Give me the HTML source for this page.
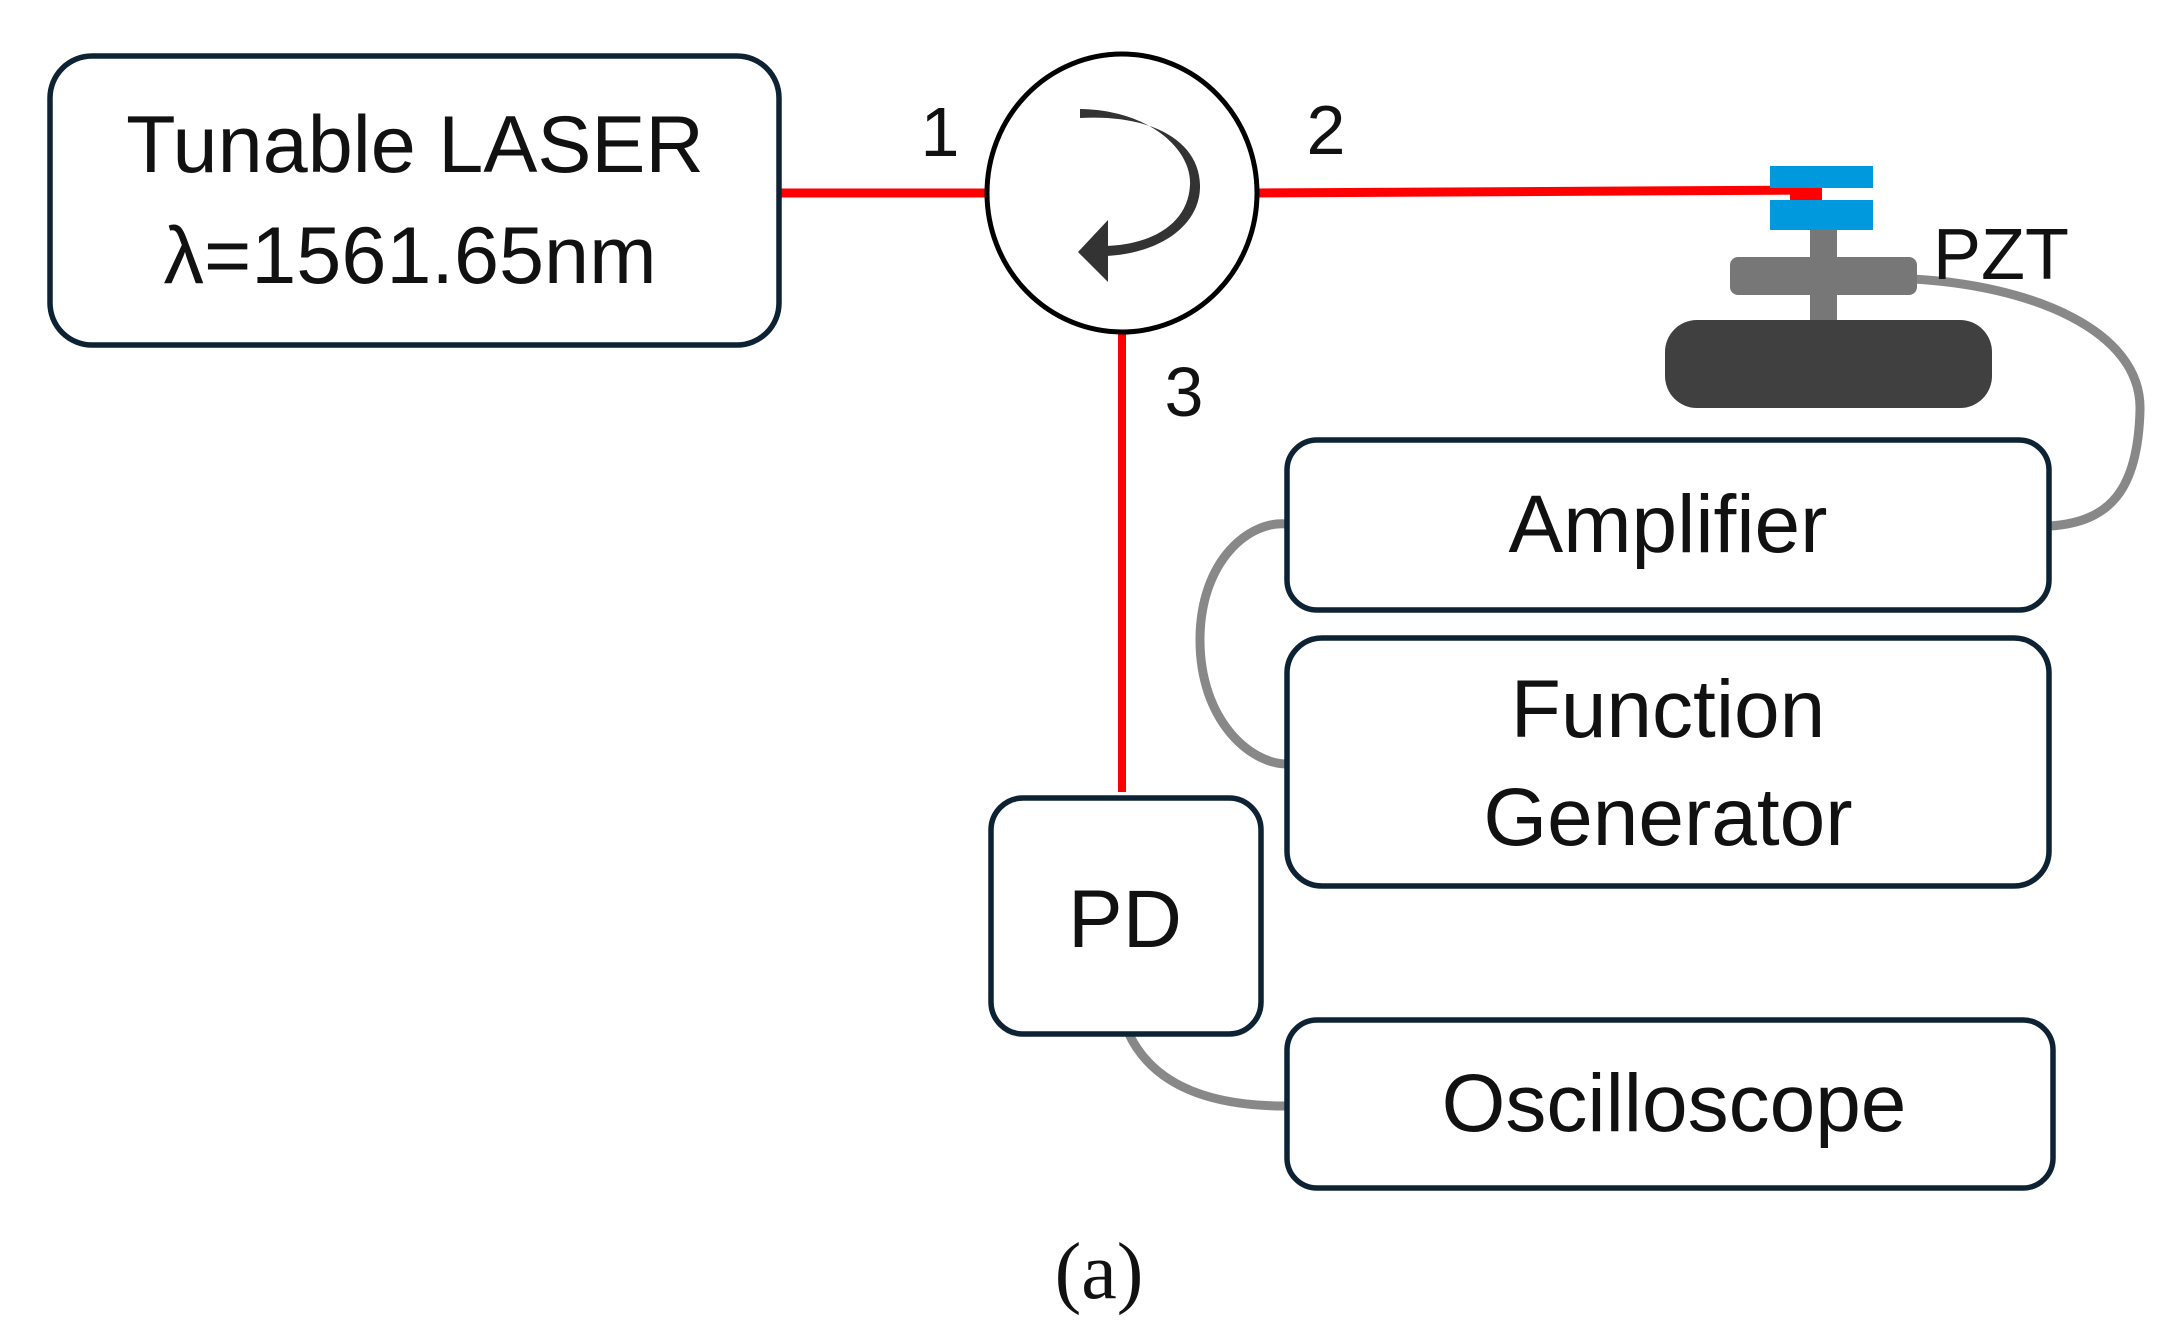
<!DOCTYPE html>
<html><head><meta charset="utf-8"><style>
html,body{margin:0;padding:0;background:#fff;}
svg{display:block;}
text{font-family:"Liberation Sans",sans-serif;fill:#111;}
</style></head><body>
<svg width="2178" height="1344" viewBox="0 0 2178 1344" xmlns="http://www.w3.org/2000/svg">
<!-- red fibers -->
<line x1="779" y1="193" x2="985" y2="193" stroke="#ff0000" stroke-width="9"/>
<line x1="1257" y1="193" x2="1822" y2="190" stroke="#ff0000" stroke-width="9"/>
<line x1="1122" y1="331" x2="1122" y2="792" stroke="#ff0000" stroke-width="8"/>
<!-- gray cables -->
<path d="M1912 279 C2030 285 2142 330 2140 410 C2138 490 2110 522 2050 526" fill="none" stroke="#888" stroke-width="9"/>
<path d="M1287 524 C1250 520 1200 560 1200 640 C1200 720 1250 764 1287 764" fill="none" stroke="#888" stroke-width="9"/>
<path d="M1128 1032 C1150 1080 1200 1106 1285 1106" fill="none" stroke="#888" stroke-width="9"/>
<!-- boxes -->
<rect x="50" y="56" width="729" height="289" rx="42" fill="#fff" stroke="#0d2233" stroke-width="5.5"/>
<rect x="1287" y="440" width="762" height="170" rx="30" fill="#fff" stroke="#0d2233" stroke-width="5.5"/>
<rect x="1287" y="638" width="762" height="248" rx="35" fill="#fff" stroke="#0d2233" stroke-width="5.5"/>
<rect x="991" y="798" width="270" height="236" rx="32" fill="#fff" stroke="#0d2233" stroke-width="5.5"/>
<rect x="1287" y="1020" width="766" height="168" rx="30" fill="#fff" stroke="#0d2233" stroke-width="5.5"/>
<!-- circulator -->
<ellipse cx="1122" cy="193" rx="135" ry="139" fill="#fff" stroke="#000" stroke-width="5"/>
<path d="M1080 109 C1150 110 1192 150 1190 185 C1188 225 1150 245 1105 246 L1105 256 C1160 254 1201 225 1200 185 C1199 140 1150 114 1080 118 Z" fill="#333"/>
<polygon points="1078,252 1108,220 1108,282" fill="#333"/>
<!-- PZT -->
<rect x="1810" y="230" width="27" height="92" fill="#777"/>
<rect x="1730" y="257" width="187" height="38" rx="8" fill="#777"/>
<rect x="1665" y="320" width="327" height="88" rx="32" fill="#404040"/>
<rect x="1770" y="166" width="103" height="22" fill="#0099dd"/>
<rect x="1770" y="200" width="103" height="30" fill="#0099dd"/>
<line x1="1790" y1="195" x2="1822" y2="195" stroke="#ff0000" stroke-width="10"/>
<text x="1933" y="279" font-size="72">PZT</text>
<!-- labels -->
<text x="415" y="172" font-size="81" text-anchor="middle">Tunable LASER</text>
<text x="410" y="283" font-size="81" text-anchor="middle">λ=1561.65nm</text>
<text x="940" y="156" font-size="70" text-anchor="middle">1</text>
<text x="1326" y="154" font-size="70" text-anchor="middle">2</text>
<text x="1184" y="416" font-size="70" text-anchor="middle">3</text>
<text x="1668" y="552" font-size="82" text-anchor="middle">Amplifier</text>
<text x="1668" y="737" font-size="82" text-anchor="middle">Function</text>
<text x="1668" y="845" font-size="82" text-anchor="middle">Generator</text>
<text x="1125" y="947" font-size="82" text-anchor="middle">PD</text>
<text x="1674" y="1131" font-size="82" text-anchor="middle">Oscilloscope</text>
<text x="1099" y="1298" font-size="80" text-anchor="middle" style="font-family:'Liberation Serif',serif">(a)</text>
</svg>
</body></html>
